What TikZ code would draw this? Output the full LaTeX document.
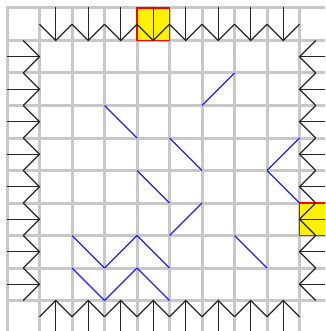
\documentclass[tikz,border=0pt]{standalone}
\begin{document}
\begin{tikzpicture}[x=1pt,y=-1pt,
  gridline/.style={draw={rgb,255:red,200;green,200;blue,200},line width=3pt,line cap=rect},
  arrowline/.style={draw=black!85,line width=1.3pt,line join=miter},
  blueline/.style={draw={rgb,255:red,30;green,30;blue,255},line width=1.1pt},
  goalcell/.style={fill=yellow,draw=red,line width=1.5pt}]
\useasboundingbox (0,0) rectangle (325,331);
\clip (0,0) rectangle (325,331);
\fill[white] (0,0) rectangle (325,331);
% grid
\foreach \k in {0,...,10}{
  \draw[gridline] ({7+32.5*\k},8) -- ({7+32.5*\k},345);
  \draw[gridline] (7,{8+32.5*\k}) -- (345,{8+32.5*\k});
}
% goal cells
\draw[goalcell] (137,8) rectangle (169.5,40.5);
\draw[goalcell] (299.5,203) rectangle (335,235.5);
% arrows on the four borders
\foreach \c in {1,...,8}{
  \pgfmathsetmacro{\a}{7+32.5*\c}
  \pgfmathsetmacro{\m}{\a+16.25}
  \pgfmathsetmacro{\b}{\a+32.5}
  % top, pointing down
  \draw[arrowline] (\m,7) -- (\m,40.5);
  \draw[arrowline] (\a,24.25) -- (\m,40.5) -- (\b,24.25);
  % bottom, pointing up
  \draw[arrowline] (\m,340) -- (\m,300.5);
  \draw[arrowline] (\a,316.75) -- (\m,300.5) -- (\b,316.75);
  % left, pointing right (rows)
  \pgfmathsetmacro{\ay}{8+32.5*\c}
  \pgfmathsetmacro{\my}{\ay+16.25}
  \pgfmathsetmacro{\by}{\ay+32.5}
  \draw[arrowline] (7,\my) -- (39.5,\my);
  \draw[arrowline] (23.25,\ay) -- (39.5,\my) -- (23.25,\by);
  % right, pointing left
  \draw[arrowline] (340,\my) -- (299.5,\my);
  \draw[arrowline] (315.75,\ay) -- (299.5,\my) -- (315.75,\by);
}
% blue diagonals: \ = down-right, / = up-right
\foreach \c/\r in {3/3,5/4,4/5,8/5,2/7,4/7,2/8,4/8,7/7}{
  \draw[blueline] ({7+32.5*\c},{8+32.5*\r}) -- ({7+32.5*(\c+1)},{8+32.5*(\r+1)});
}
\foreach \c/\r in {6/2,8/4,5/6,3/7,3/8}{
  \draw[blueline] ({7+32.5*\c},{8+32.5*(\r+1)}) -- ({7+32.5*(\c+1)},{8+32.5*\r});
}
\end{tikzpicture}
\end{document}
